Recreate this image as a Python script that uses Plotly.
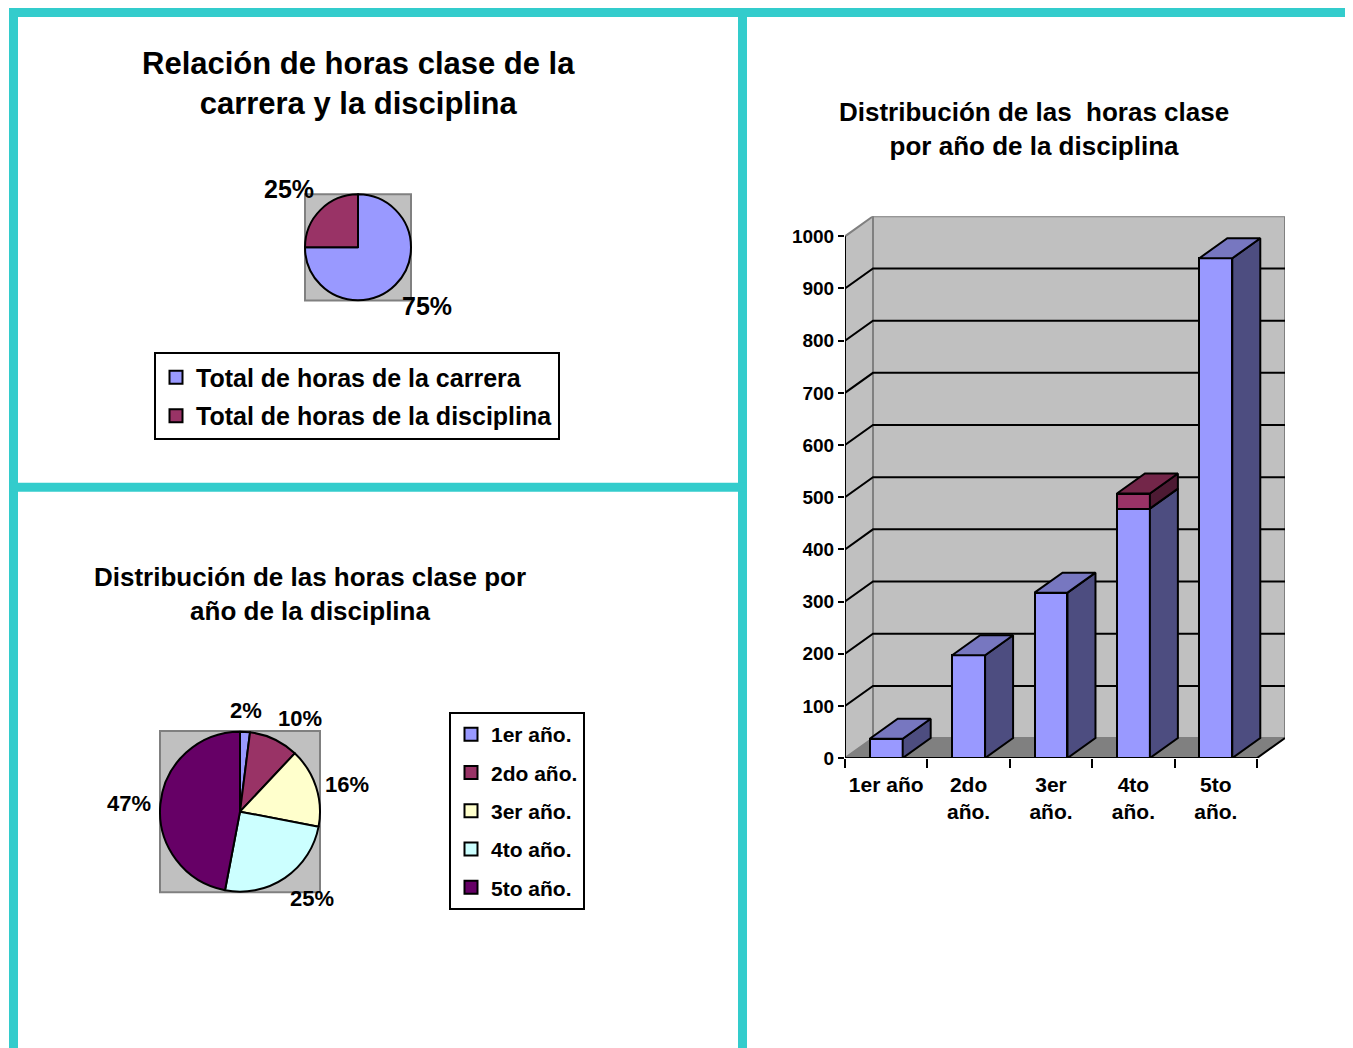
import math
import plotly.graph_objects as go

# ---------------- data ----------------
pie1_labels = ["Total de horas de la carrera", "Total de horas de la disciplina"]
pie1_values = [75, 25]
pie1_colors = ["#9999FF", "#993366"]

pie2_labels = ["1er año.", "2do año.", "3er año.", "4to año.", "5to año."]
pie2_values = [2, 10, 16, 25, 47]
pie2_colors = ["#9999FF", "#993366", "#FFFFCC", "#CCFFFF", "#660066"]

bar_categories = ["1er año", "2do<br>año.", "3er<br>año.", "4to<br>año.", "5to<br>año."]
bar_blue = [37, 197, 317, 478, 958]
bar_red = [0, 0, 0, 29, 0]
y_ticks = list(range(0, 1001, 100))

title1 = "Relación de horas clase de la<br>carrera y la disciplina"
title2 = "Distribución de las horas clase por<br>año de la disciplina"
title3 = "Distribución de las  horas clase<br>por año de la disciplina"

# ---------------- layout helpers ----------------
OFF = 8                      # browser body margin
SY = 0.988                   # vertical calibration of the capture
W, H = 1353 - 2 * OFF, 1040
FONT = "Liberation Sans, Arial, sans-serif"
TEAL = "#33CCCC"


def px(x):
    return (x - OFF) / W


def py(y):
    return 1 - (y - OFF) / SY / H


fig = go.Figure()
shapes = []
annotations = []

# teal frame
for x0, y0, x1, y1 in [(9, 8, 1353, 17), (9, 8, 18, 1060), (738, 8, 747, 1060), (9, 482, 747, 491)]:
    shapes.append(dict(type="rect", xref="paper", yref="paper", x0=px(x0), x1=px(x1),
                       y0=py(y1), y1=py(y0), fillcolor=TEAL, line=dict(width=0), layer="above"))


def add_pie(labels, values, colors, box, legend_name, label_size, gap):
    x0, y0, x1, y1 = box
    shapes.append(dict(type="rect", xref="paper", yref="paper", x0=px(x0), x1=px(x1),
                       y0=py(y1), y1=py(y0), fillcolor="#C0C0C0",
                       line=dict(color="#808080", width=2), layer="below"))
    fig.add_trace(go.Pie(labels=labels, values=values, sort=False, direction="clockwise",
                         marker=dict(colors=colors, line=dict(color="black", width=2)),
                         textinfo="none",
                         domain=dict(x=[px(x0), px(x1)], y=[py(y1), py(y0)]),
                         showlegend=False, hoverinfo="label+percent"))
    # percentage labels placed outside the circle (Excel style)
    cx, cy = (x0 + x1) / 2, (y0 + y1) / 2
    r = min(x1 - x0, y1 - y0) / 2
    tot = float(sum(values))
    cum = 0.0
    for v in values:
        mid = (cum + v / 2) / tot * 2 * math.pi
        cum += v
        sx, sy = math.sin(mid), -math.cos(mid)
        ax, ay = cx + (r + gap) * sx, cy + (r + gap) * sy
        xa = "left" if sx > 0.3 else ("right" if sx < -0.3 else "center")
        ya = "top" if sy > 0.35 else ("bottom" if sy < -0.35 else "middle")
        annotations.append(dict(text="%d%%" % round(v / tot * 100), x=px(ax), y=py(ay),
                                xref="paper", yref="paper", xanchor=xa, yanchor=ya, showarrow=False,
                                borderpad=0,
                                font=dict(family=FONT, size=label_size, color="black", weight="bold")))
    # legend entries (square swatches)
    for i, (lab, col) in enumerate(zip(labels, colors)):
        fig.add_trace(go.Scatter(x=[None], y=[None], mode="markers", name=lab, legend=legend_name,
                                 legendgroup="%s%d" % (legend_name, i),
                                 marker=dict(symbol="square", size=13, color=col,
                                             line=dict(color="black", width=2))))


add_pie(pie1_labels, pie1_values, pie1_colors, (305, 194, 411, 300), "legend", 25, 8)
add_pie(pie2_labels, pie2_values, pie2_colors, (160, 730, 320, 891), "legend2", 22, 8)

# ---------------- 3D-like bar chart ----------------
BX0, BX1, BY0, BY1 = 845, 1285, 757, 216      # plot area pixels (front-left axis -> back-right wall)
CAT_PX = (1257 - 845) / len(bar_categories)    # pixels per category
DX = (BX1 - 1257) / CAT_PX                      # depth offset in x units
PX_PER_UNIT = (757 - 236) / 1000.0
DY = 20 / PX_PER_UNIT                           # depth offset in y units
XMIN, XMAX = -0.5, len(bar_categories) - 0.5 + DX
YMAX = 1000 + DY
BW = 0.4

xs = list(range(len(bar_categories)))

# walls and floor
shapes.append(dict(type="rect", xref="x", yref="y", x0=XMIN + DX, x1=XMAX, y0=DY, y1=YMAX,
                   fillcolor="#C0C0C0", line=dict(color="#808080", width=2), layer="below"))
shapes.append(dict(type="path", xref="x", yref="y",
                   path="M %f,%f L %f,%f L %f,%f L %f,%f Z" % (XMIN, 0, XMIN + DX, DY, XMIN + DX, YMAX, XMIN, 1000),
                   fillcolor="#C0C0C0", line=dict(color="#808080", width=2), layer="below"))
shapes.append(dict(type="path", xref="x", yref="y",
                   path="M %f,%f L %f,%f L %f,%f L %f,%f Z" % (XMIN, 0, XMAX - DX, 0, XMAX, DY, XMIN + DX, DY),
                   fillcolor="#808080", line=dict(color="#808080", width=1), layer="below"))
# gridlines (side wall diagonal + back wall)
for v in y_ticks[1:-1]:
    shapes.append(dict(type="path", xref="x", yref="y",
                       path="M %f,%f L %f,%f L %f,%f" % (XMIN, v, XMIN + DX, v + DY, XMAX, v + DY),
                       line=dict(color="black", width=2), layer="below"))
# front axis lines
shapes.append(dict(type="line", xref="x", yref="y", x0=XMIN, x1=XMIN, y0=0, y1=1000,
                   line=dict(color="black", width=2), layer="above"))
shapes.append(dict(type="path", xref="x", yref="y",
                   path="M %f,%f L %f,%f L %f,%f" % (XMIN, 0, XMAX - DX, 0, XMAX, DY),
                   line=dict(color="black", width=2), layer="above"))

fig.add_trace(go.Bar(x=xs, y=bar_blue, width=BW, marker=dict(color="#9999FF", line=dict(color="black", width=2)),
                     showlegend=False, hoverinfo="y"))
fig.add_trace(go.Bar(x=xs, y=bar_red, width=BW, marker=dict(color="#993366", line=dict(color="black", width=2)),
                     showlegend=False, hoverinfo="y"))

side_cols = {"blue": "#4D4D80", "red": "#4D1A33"}
top_cols = {"blue": "#7777C0", "red": "#732649"}
for i, x in enumerate(xs):
    segs = [("blue", 0, bar_blue[i])]
    if bar_red[i] > 0:
        segs.append(("red", bar_blue[i], bar_blue[i] + bar_red[i]))
    xl, xr = x - BW / 2, x + BW / 2
    for name, y0, y1 in segs:
        fig.add_trace(go.Scatter(x=[xr, xr + DX, xr + DX, xr, xr], y=[y0, y0 + DY, y1 + DY, y1, y0],
                                 mode="lines", fill="toself", fillcolor=side_cols[name],
                                 line=dict(color="black", width=2), showlegend=False, hoverinfo="skip"))
    name, y0, y1 = segs[-1]
    fig.add_trace(go.Scatter(x=[xl, xr, xr + DX, xl + DX, xl], y=[y1, y1, y1 + DY, y1 + DY, y1],
                             mode="lines", fill="toself", fillcolor=top_cols[name],
                             line=dict(color="black", width=2), showlegend=False, hoverinfo="skip"))

# titles
for txt, cx, cy, size in [(title1, 358, 83, 31), (title2, 310, 593, 26), (title3, 1034, 129, 26)]:
    annotations.append(dict(text=txt, x=px(cx), y=py(cy), xref="paper", yref="paper",
                            xanchor="center", yanchor="middle", showarrow=False,
                            font=dict(family=FONT, size=size, color="black", weight="bold")))

fig.update_layout(
    width=W, height=H, margin=dict(l=0, r=0, t=0, b=0),
    paper_bgcolor="white", plot_bgcolor="rgba(0,0,0,0)",
    barmode="stack", shapes=shapes, annotations=annotations,
    font=dict(family=FONT, color="black"),
    xaxis=dict(domain=[px(BX0), px(BX1)], range=[XMIN, XMAX], tickvals=xs, ticktext=bar_categories,
               ticks="", showgrid=False, zeroline=False, showline=False, ticklabelstandoff=12,
               tickfont=dict(family=FONT, size=21, color="black", weight="bold"),
               minor=dict(tickvals=[x - 0.5 for x in xs] + [xs[-1] + 0.5], ticks="outside", ticklen=9,
                          tickwidth=2, tickcolor="black", showgrid=False)),
    yaxis=dict(domain=[py(BY0), py(BY1)], range=[0, YMAX], tickvals=y_ticks, ticks="outside",
               ticklen=6, tickwidth=2, tickcolor="black", showgrid=False, zeroline=False, showline=False,
               tickfont=dict(family=FONT, size=19, color="black", weight="bold")),
    legend=dict(x=px(154), y=py(352), xanchor="left", yanchor="top", bordercolor="black", borderwidth=2,
                bgcolor="white", tracegroupgap=3, traceorder="grouped",
                font=dict(family=FONT, size=25, color="black", weight="bold")),
    legend2=dict(x=px(449), y=py(711), xanchor="left", yanchor="top", bordercolor="black", borderwidth=2,
                 bgcolor="white", tracegroupgap=8, traceorder="grouped",
                 font=dict(family=FONT, size=21, color="black", weight="bold")),
)

fig.write_html("out.html")
